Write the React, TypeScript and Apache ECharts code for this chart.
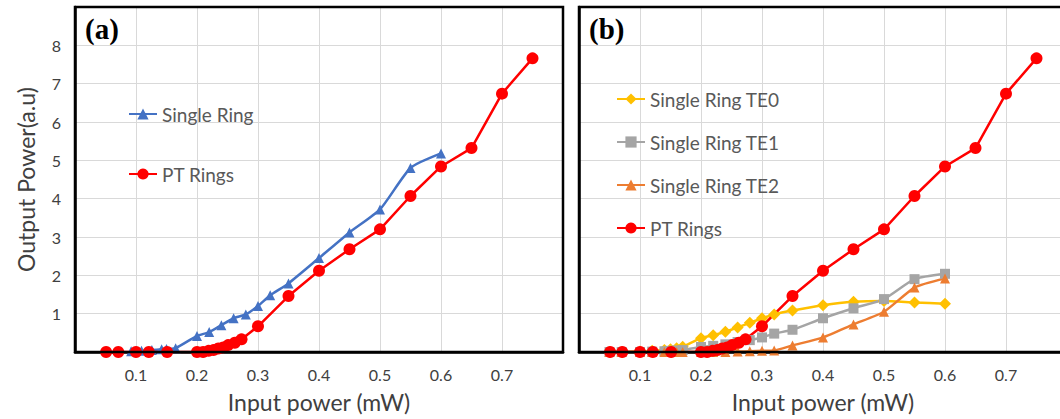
import React, { useEffect, useRef } from "react";
import * as echarts from "echarts";

// ---- data ----
const PT_X = [0.051, 0.071, 0.1, 0.121, 0.151, 0.2, 0.21, 0.219, 0.227, 0.235, 0.243, 0.251, 0.262, 0.273, 0.3, 0.35, 0.4, 0.45, 0.5, 0.55, 0.6, 0.65, 0.7, 0.75];
const PT_Y = [0, 0, 0, 0, 0, 0, 0, 0.03, 0.05, 0.09, 0.12, 0.18, 0.24, 0.33, 0.67, 1.46, 2.12, 2.68, 3.2, 4.07, 4.84, 5.32, 6.74, 7.66];

const SINGLE_X = [0.092, 0.109, 0.126, 0.142, 0.15, 0.165, 0.2, 0.22, 0.24, 0.26, 0.28, 0.3, 0.32, 0.35, 0.4, 0.45, 0.5, 0.55, 0.6];
const SINGLE_Y = [0.02, 0.03, 0.05, 0.07, 0.08, 0.1, 0.42, 0.52, 0.7, 0.88, 0.98, 1.2, 1.48, 1.79, 2.45, 3.12, 3.72, 4.8, 5.18];

const TE_X = [0.05, 0.07, 0.1, 0.12, 0.14, 0.15, 0.16, 0.17, 0.2, 0.22, 0.24, 0.26, 0.28, 0.3, 0.32, 0.35, 0.4, 0.45, 0.5, 0.55, 0.6];
const TE0_Y = [0, 0, 0.01, 0.03, 0.05, 0.07, 0.1, 0.14, 0.36, 0.44, 0.53, 0.64, 0.76, 0.88, 0.98, 1.08, 1.22, 1.31, 1.33, 1.29, 1.26];
const TE1_Y = [0, 0, 0, 0.01, 0.02, 0.03, 0.04, 0.05, 0.13, 0.16, 0.2, 0.26, 0.31, 0.38, 0.48, 0.58, 0.88, 1.14, 1.38, 1.9, 2.04];
const TE2_Y = [0, 0, 0, 0, 0, 0, 0, 0, 0, 0, 0, 0.01, 0.02, 0.03, 0.04, 0.17, 0.38, 0.72, 1.05, 1.68, 1.92];

const LEGEND_A = ["Single Ring", "PT Rings"];
const LEGEND_B = ["Single Ring TE0", "Single Ring TE1", "Single Ring TE2", "PT Rings"];
const PANEL_LABELS = ["(a)", "(b)"];
const X_TITLE = "Input power (mW)";
const Y_TITLE = "Output Power(a.u)";
const X_MIN = 0, X_MAX = 0.8, X_STEP = 0.1;
const Y_MIN = 0, Y_MAX = 9, Y_STEP = 1;

// ---- layout / style ----
const FONT = "Lato";
const GRIDS = [
  { left: 75, top: 7, width: 488, height: 345 },
  { left: 579, top: 7, width: 488, height: 345 },
];
const C = { blue: "#4472C4", red: "#FF0000", yellow: "#FFC000", gray: "#A5A5A5", orange: "#ED7D31" };

const zip = (xs: number[], ys: number[]) => xs.map((x, i) => [x, ys[i]]);

function line(name: string, idx: number, data: number[][], color: string, symbol: string, size: number, smooth: number | boolean) {
  return {
    type: "line",
    name,
    xAxisIndex: idx,
    yAxisIndex: idx,
    data,
    symbol,
    symbolSize: size,
    smooth,
    showSymbol: true,
    lineStyle: { color, width: 2.5 },
    itemStyle: { color },
    emphasis: { disabled: true },
  };
}

export default function App() {
  const ref = useRef<HTMLDivElement>(null);
  useEffect(() => {
    if (!ref.current) return;
    const chart = echarts.init(ref.current, undefined, { renderer: "svg" });
    const xAxis = GRIDS.map((_, i) => ({
      type: "value",
      gridIndex: i,
      min: X_MIN,
      max: X_MAX,
      interval: X_STEP,
      axisLine: { show: true, onZero: false, lineStyle: { color: "#000", width: 2.5 } },
      axisTick: { show: false },
      axisLabel: {
        formatter: (v: number) => (v < 0.05 || v > 0.75 ? "" : v.toFixed(1)),
        color: "#404040",
        fontSize: 16,
        fontFamily: FONT,
        margin: 14,
      },
      splitLine: { show: true, lineStyle: { color: "#d9d9d9", width: 1 } },
      name: X_TITLE,
      nameLocation: "middle",
      nameGap: 38,
      nameTextStyle: { fontSize: 23, fontFamily: FONT, color: "#404040" },
    }));
    const yAxis = GRIDS.map((_, i) => ({
      type: "value",
      gridIndex: i,
      min: Y_MIN,
      max: Y_MAX,
      interval: Y_STEP,
      axisLine: { show: true, lineStyle: { color: "#000", width: 2.5 } },
      axisTick: { show: false },
      axisLabel: {
        show: i === 0,
        formatter: (v: number) => (v === Y_MIN || v === Y_MAX ? "" : String(v)),
        color: "#404040",
        fontSize: 16,
        fontFamily: FONT,
        margin: 14,
      },
      splitLine: { show: true, lineStyle: { color: "#d9d9d9", width: 1 } },
      name: i === 0 ? Y_TITLE : "",
      nameLocation: "middle",
      nameGap: 38,
      nameTextStyle: { fontSize: 23, fontFamily: FONT, color: "#404040" },
    }));
    const legendCommon = {
      orient: "vertical",
      itemWidth: 28,
      itemHeight: 14,
      padding: 0,
      textStyle: { fontSize: 19, fontFamily: FONT, color: "#595959", lineHeight: 20 },
      selectedMode: false,
    };
    const option = {
      animation: false,
      grid: GRIDS.map((g) => ({ ...g, show: false })),
      xAxis,
      yAxis,
      legend: [
        { ...legendCommon, data: LEGEND_A, left: 128, top: 104, itemGap: 40 },
        { ...legendCommon, data: LEGEND_B, left: 616, top: 89, itemGap: 23 },
      ],
      graphic: [
        ...GRIDS.map((g) => ({
          type: "rect",
          z: 100,
          silent: true,
          shape: { x: g.left, y: g.top, width: g.width, height: g.height },
          style: { fill: "none", stroke: "#000", lineWidth: 2.5 },
        })),
        ...GRIDS.map((g, i) => ({
          type: "text",
          z: 100,
          x: g.left + 10,
          y: 29,
          style: {
            text: PANEL_LABELS[i],
            font: 'bold 29px "Liberation Serif", serif',
            fill: "#000",
            verticalAlign: "middle",
          },
        })),
      ],
      series: [
        line("Single Ring", 0, zip(SINGLE_X, SINGLE_Y), C.blue, "triangle", 10, 0.2),
        line("PT Rings", 0, zip(PT_X, PT_Y), C.red, "circle", 12, false),
        line("Single Ring TE0", 1, zip(TE_X, TE0_Y), C.yellow, "diamond", 12, 0.2),
        line("Single Ring TE1", 1, zip(TE_X, TE1_Y), C.gray, "rect", 10, 0.2),
        line("Single Ring TE2", 1, zip(TE_X, TE2_Y), C.orange, "triangle", 10, 0.2),
        line("PT Rings", 1, zip(PT_X, PT_Y), C.red, "circle", 12, false),
      ],
    };
    chart.setOption(option as any);
    return () => chart.dispose();
  }, []);
  return (
    <div style={{ position: "fixed", left: 0, top: 0, width: 1060, height: 419, overflow: "hidden", background: "#fff" }}>
      <div ref={ref} style={{ width: 1080, height: 419 }} />
    </div>
  );
}
